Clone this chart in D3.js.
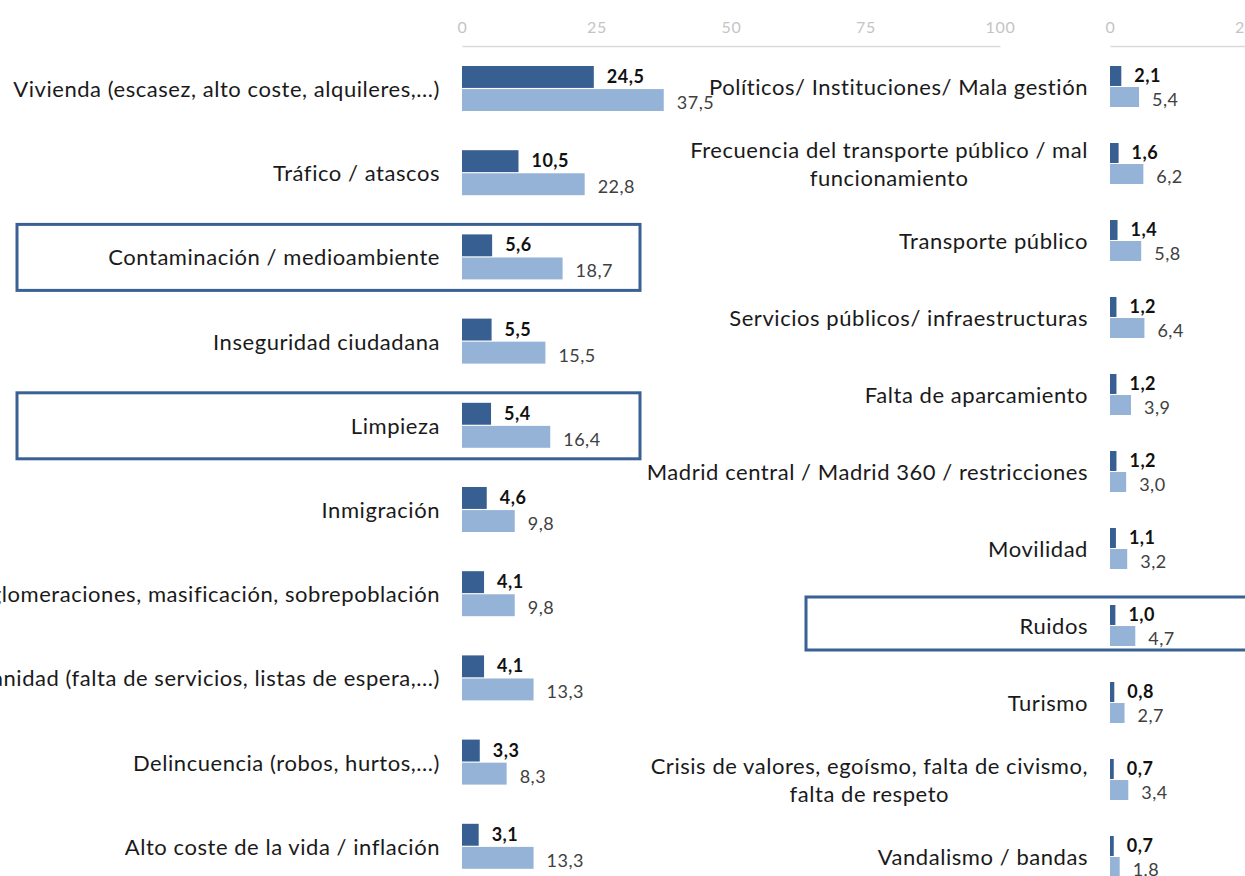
<!DOCTYPE html>
<html>
<head>
<meta charset="utf-8">
<script src="https://cdn.jsdelivr.net/npm/d3@7"></script>
<style>
  body { margin: 0; background: #fff; }
  svg { display: block; font-family: Lato, "Open Sans", sans-serif; }
</style>
</head>
<body>
<svg id="chart" width="1245" height="876"></svg>
<script>
// data
var leftCats = ['Vivienda (escasez, alto coste, alquileres,...)', 'Tráfico / atascos',
  'Contaminación / medioambiente', 'Inseguridad ciudadana', 'Limpieza', 'Inmigración',
  'Aglomeraciones, masificación, sobrepoblación', 'Sanidad (falta de servicios, listas de espera,...)',
  'Delincuencia (robos, hurtos,...)', 'Alto coste de la vida / inflación'];
var leftA = [24.5, 10.5, 5.6, 5.5, 5.4, 4.6, 4.1, 4.1, 3.3, 3.1];
var leftB = [37.5, 22.8, 18.7, 15.5, 16.4, 9.8, 9.8, 13.3, 8.3, 13.3];

var rightCats = [['Políticos/ Instituciones/ Mala gestión'],
  ['Frecuencia del transporte público / mal', 'funcionamiento'],
  ['Transporte público'], ['Servicios públicos/ infraestructuras'], ['Falta de aparcamiento'],
  ['Madrid central / Madrid 360 / restricciones'], ['Movilidad'], ['Ruidos'], ['Turismo'],
  ['Crisis de valores, egoísmo, falta de civismo,', 'falta de respeto'], ['Vandalismo / bandas']];
var rightA = [2.1, 1.6, 1.4, 1.2, 1.2, 1.2, 1.1, 1.0, 0.8, 0.7, 0.7];
var rightB = [5.4, 6.2, 5.8, 6.4, 3.9, 3.0, 3.2, 4.7, 2.7, 3.4, 1.8];

var ticks = [0, 25, 50, 75, 100];
var highlighted = ['Contaminación / medioambiente', 'Limpieza', 'Ruidos'];

var darkBlue = '#375f91', lightBlue = '#95b3d7', boxBlue = '#3a6194';
var fmt = function(v){ return d3.format('.1f')(v).replace('.', ','); };

var svg = d3.select('#chart');

// one panel: axis on top, label column to the left, two bars per row
function draw_panel(opts){
  var x = d3.scaleLinear().domain([0, 100]).range([opts.x0, opts.x0 + 538]);
  var y = d3.scaleBand().domain(d3.range(opts.cats.length))
    .range([opts.top, opts.top + opts.step * opts.cats.length]);
  var sub = d3.scaleBand().domain(['A', 'B']).range([0, opts.barH * 2 + 2]).paddingInner(0.05);

  var g = svg.append('g');

  // axis
  var ax = g.append('g').attr('transform', 'translate(0,46)')
    .call(d3.axisTop(x).tickValues(ticks).tickSize(0).tickPadding(13));
  ax.select('.domain').attr('stroke', '#d9d9d9').attr('stroke-width', 1.5);
  ax.selectAll('text').attr('fill', '#c4c4c4').style('font-size', '16px')
    .style('letter-spacing', '0.8px').style('font-family', 'Lato');

  var rows = g.selectAll('.row').data(opts.cats).enter().append('g')
    .attr('class', 'row')
    .attr('transform', function(d, i){ return 'translate(0,' + y(i) + ')'; });

  // highlight boxes
  rows.filter(function(d){ return highlighted.indexOf([].concat(d).join(' ')) >= 0; })
    .append('rect')
    .attr('x', opts.boxX).attr('y', opts.boxY)
    .attr('width', opts.boxW).attr('height', opts.boxH)
    .attr('fill', 'none').attr('stroke', boxBlue).attr('stroke-width', 3);

  // category labels (multi-line ones are centred inside a right-aligned block)
  rows.each(function(d){
    var lines = [].concat(d);
    var t = d3.select(this).append('text')
      .attr('fill', '#1a1a1a').style('font-size', '22px').style('letter-spacing', '0.55px');
    lines.forEach(function(l, k){
      t.append('tspan').attr('x', 0).attr('dy', k === 0 ? 0 : 28).text(l);
    });
    var widths = [];
    t.selectAll('tspan').each(function(){ widths.push(this.getComputedTextLength()); });
    var w = d3.max(widths);
    var multi = lines.length > 1;
    t.attr('text-anchor', multi ? 'middle' : 'end')
      .attr('transform', 'translate(' + (multi ? opts.labelR - w / 2 : opts.labelR) + ',' +
        (multi ? opts.labelY - 14 : opts.labelY) + ')')
      .attr('dominant-baseline', 'central');
  });

  // bars
  rows.append('rect')
    .attr('x', x(0)).attr('y', sub('A'))
    .attr('width', function(d, i){ return x(opts.a[i]) - x(0); })
    .attr('height', sub.bandwidth()).attr('fill', darkBlue);
  rows.append('rect')
    .attr('x', x(0)).attr('y', sub('B'))
    .attr('width', function(d, i){ return x(opts.b[i]) - x(0); })
    .attr('height', sub.bandwidth()).attr('fill', lightBlue);

  // values
  rows.append('text')
    .attr('x', function(d, i){ return x(opts.a[i]) + 13; })
    .attr('y', sub('A') + sub.bandwidth() / 2 - 1)
    .attr('dominant-baseline', 'central')
    .style('font-size', '18px').style('letter-spacing', '0.5px')
    .style('font-weight', 'bold').attr('fill', '#111')
    .text(function(d, i){ return fmt(opts.a[i]); });
  rows.append('text')
    .attr('x', function(d, i){ return x(opts.b[i]) + 13; })
    .attr('y', sub('B') + sub.bandwidth() / 2 + 2)
    .attr('dominant-baseline', 'central')
    .style('font-size', '18px').style('letter-spacing', '0.5px').attr('fill', '#404040')
    .text(function(d, i){ return fmt(opts.b[i]); });
}

draw_panel({
  cats: leftCats, a: leftA, b: leftB,
  x0: 462, top: 66, step: 84.2, barH: 21.5,
  labelR: 440, labelY: 22,
  boxX: 17, boxY: -10, boxW: 623, boxH: 66
});

draw_panel({
  cats: rightCats, a: rightA, b: rightB,
  x0: 1110, top: 66, step: 77, barH: 19.5,
  labelR: 1088, labelY: 20,
  boxX: 806, boxY: -8, boxW: 460, boxH: 53
});
</script>
</body>
</html>
